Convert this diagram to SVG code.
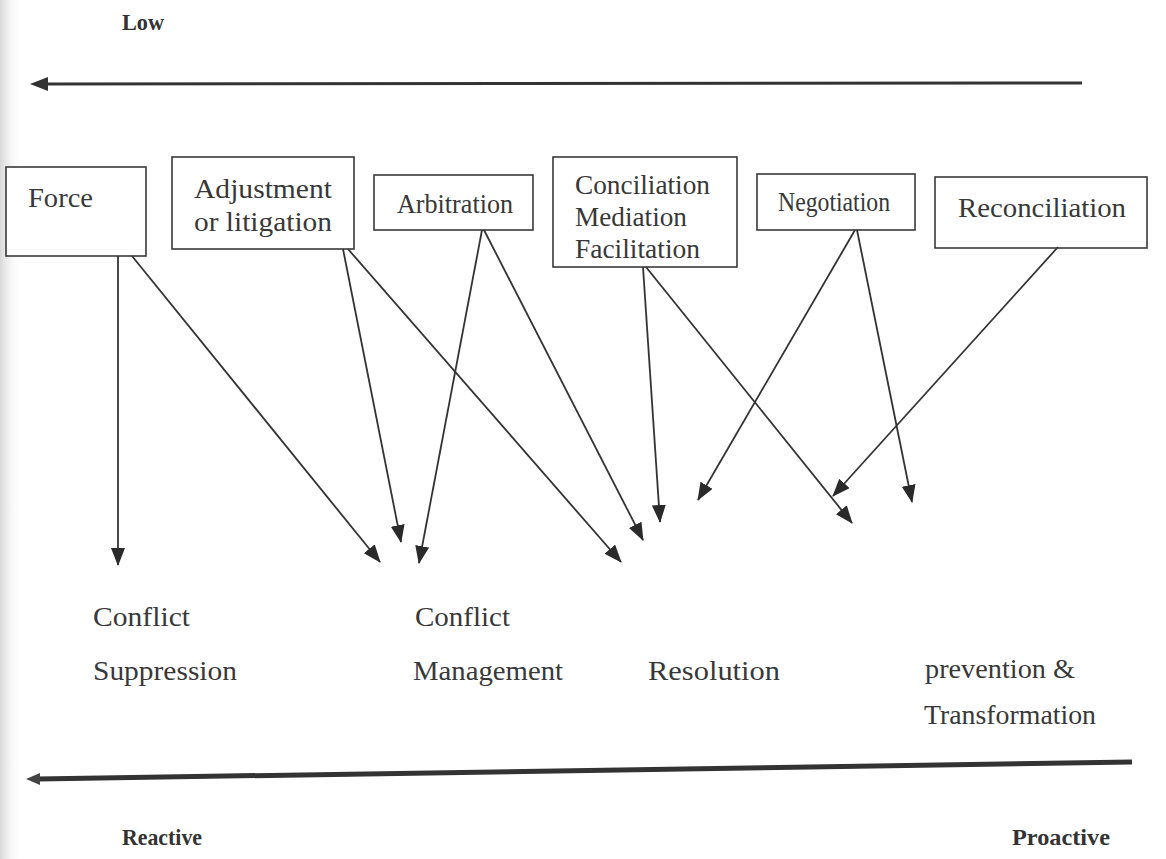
<svg xmlns="http://www.w3.org/2000/svg" width="1166" height="859" viewBox="0 0 1166 859">
<style>
.box{fill:#fff;stroke:#3a3a3a;stroke-width:1.6}
.t{font-family:"Liberation Serif","Times New Roman",serif;fill:#383838;font-size:27px}
.b{font-family:"Liberation Serif","Times New Roman",serif;fill:#333;font-weight:bold;font-size:24px}
.c{stroke:#333;stroke-width:1.8;fill:none;marker-end:url(#ah)}
</style>
<defs>
<marker id="ah" markerUnits="userSpaceOnUse" markerWidth="20" markerHeight="16" refX="17" refY="7" orient="auto"><path d="M0,0 L18,7 L0,14 Z" fill="#2a2a2a"/></marker>
<linearGradient id="edge" x1="0" y1="0" x2="1" y2="0"><stop offset="0" stop-color="#d8d8d8"/><stop offset="1" stop-color="#fff" stop-opacity="0"/></linearGradient>
</defs>
<rect width="1166" height="859" fill="#fff"/>
<rect width="22" height="859" fill="url(#edge)"/>
<text class="b" x="122" y="30" textLength="42" lengthAdjust="spacingAndGlyphs">Low</text>
<g id="axis-top">
<line x1="1082" y1="83" x2="46" y2="84" stroke="#333" stroke-width="3"/>
<path d="M30,84 L48,77 L48,91 Z" fill="#333"/>
</g>
<g id="force"><rect class="box" x="6" y="167" width="140" height="89"/><text class="t" x="28" y="207" textLength="65" lengthAdjust="spacingAndGlyphs">Force</text></g>
<g id="adjustment"><rect class="box" x="172" y="157" width="182" height="92"/><text class="t" x="194" y="198" textLength="138" lengthAdjust="spacingAndGlyphs">Adjustment</text><text class="t" x="194" y="231" textLength="138" lengthAdjust="spacingAndGlyphs">or litigation</text></g>
<g id="arbitration"><rect class="box" x="374" y="175" width="159" height="55"/><text class="t" x="397" y="213" textLength="116" lengthAdjust="spacingAndGlyphs">Arbitration</text></g>
<g id="conciliation"><rect class="box" x="553" y="157" width="184" height="110"/><text class="t" x="575" y="194" textLength="135" lengthAdjust="spacingAndGlyphs">Conciliation</text><text class="t" x="575" y="226" textLength="112" lengthAdjust="spacingAndGlyphs">Mediation</text><text class="t" x="575" y="258" textLength="125" lengthAdjust="spacingAndGlyphs">Facilitation</text></g>
<g id="negotiation"><rect class="box" x="757" y="174" width="158" height="56"/><text class="t" x="778" y="211" font-size="25" textLength="112" lengthAdjust="spacingAndGlyphs">Negotiation</text></g>
<g id="reconciliation"><rect class="box" x="935" y="177" width="212" height="71"/><text class="t" x="958" y="217" textLength="168" lengthAdjust="spacingAndGlyphs">Reconciliation</text></g>
<g id="connectors">
<line class="c" x1="118" y1="256" x2="118" y2="565"/>
<line class="c" x1="132" y1="256" x2="380" y2="562"/>
<line class="c" x1="343" y1="249" x2="401" y2="542"/>
<line class="c" x1="348" y1="249" x2="621" y2="562"/>
<line class="c" x1="482" y1="230" x2="419" y2="563"/>
<line class="c" x1="484" y1="230" x2="643" y2="540"/>
<line class="c" x1="643" y1="267" x2="660" y2="522"/>
<line class="c" x1="646" y1="267" x2="852" y2="523"/>
<line class="c" x1="855" y1="230" x2="698" y2="500"/>
<line class="c" x1="857" y1="230" x2="912" y2="502"/>
<line class="c" x1="1058" y1="247" x2="833" y2="496"/>
</g>
<g id="labels">
<text class="t" x="93" y="626" textLength="97" lengthAdjust="spacingAndGlyphs">Conflict</text>
<text class="t" x="93" y="680" textLength="144" lengthAdjust="spacingAndGlyphs">Suppression</text>
<text class="t" x="415" y="626" textLength="95" lengthAdjust="spacingAndGlyphs">Conflict</text>
<text class="t" x="413" y="680" textLength="150" lengthAdjust="spacingAndGlyphs">Management</text>
<text class="t" x="648" y="680" textLength="132" lengthAdjust="spacingAndGlyphs">Resolution</text>
<text class="t" x="925" y="678" textLength="150" lengthAdjust="spacingAndGlyphs">prevention &amp;</text>
<text class="t" x="924" y="724" textLength="172" lengthAdjust="spacingAndGlyphs">Transformation</text>
</g>
<g id="axis-bottom">
<line x1="1132" y1="762" x2="38" y2="779" stroke="#333" stroke-width="5"/>
<path d="M26,779 L40,773 L40,785 Z" fill="#444"/>
</g>
<text class="b" x="122" y="845" textLength="80" lengthAdjust="spacingAndGlyphs">Reactive</text>
<text class="b" x="1012" y="845" textLength="98" lengthAdjust="spacingAndGlyphs">Proactive</text>
</svg>
